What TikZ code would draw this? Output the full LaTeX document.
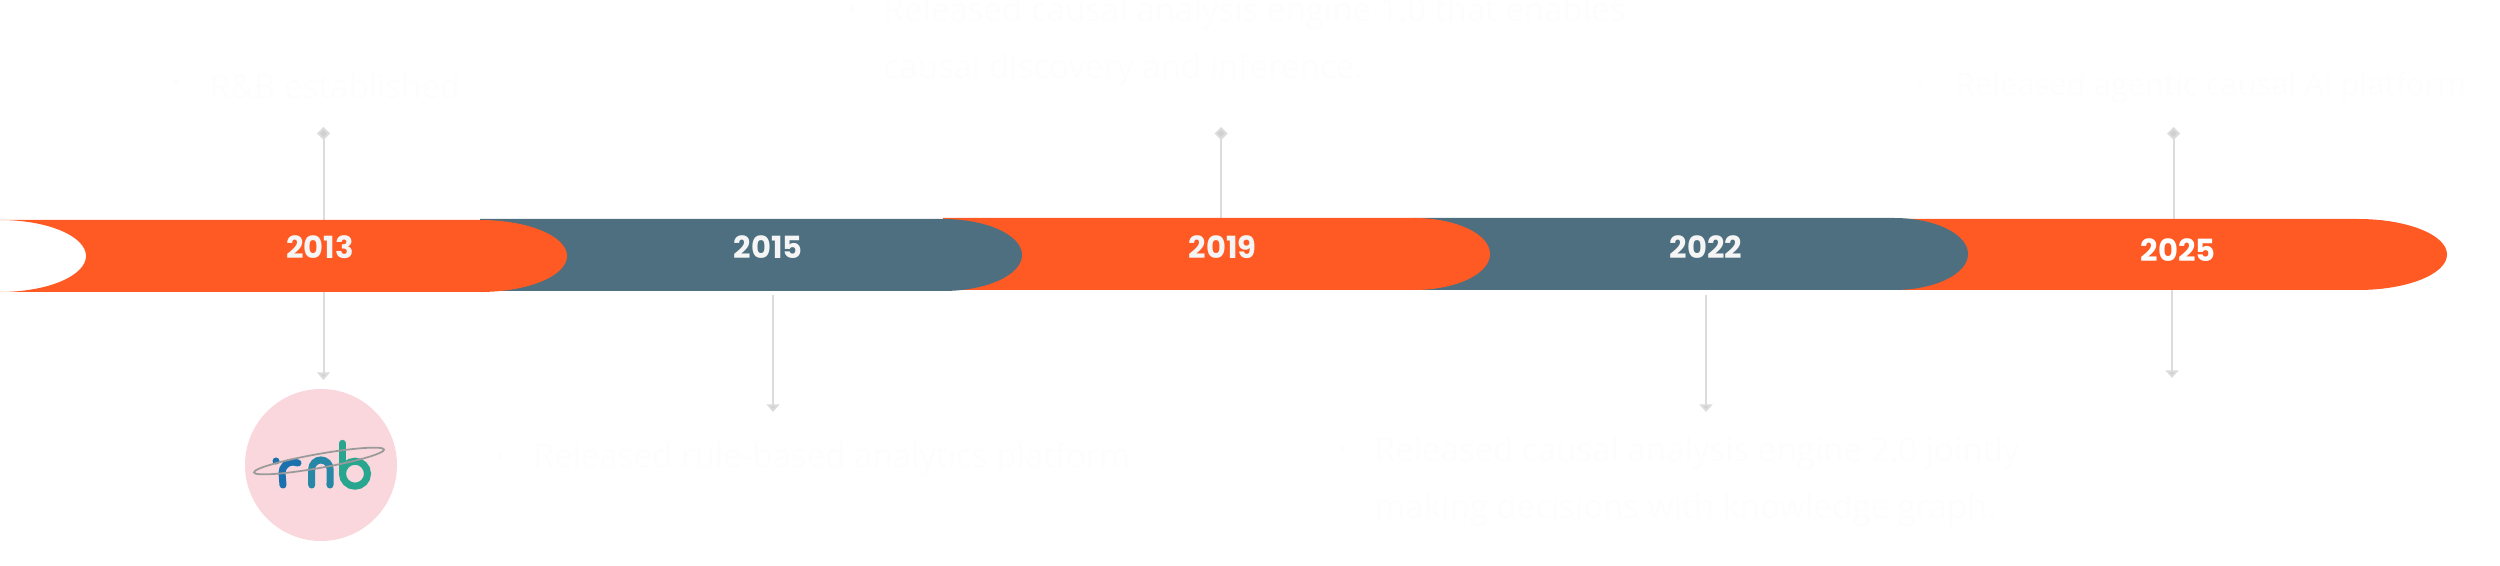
\documentclass[tikz,border=0pt]{standalone}
\usepackage{fontspec}
\setmainfont{Open Sans}
\newfontfamily\yearfont{Poppins}
\usetikzlibrary{arrows.meta}
\definecolor{bandorange}{HTML}{FF5A24}
\definecolor{bandteal}{HTML}{4D6F7F}
\definecolor{stemgray}{HTML}{DCDCDC}
\definecolor{tipgray}{HTML}{D0D0D0}
\definecolor{faintwhite}{HTML}{FDFDFD}
\definecolor{yearwhite}{HTML}{F5F5F5}
\definecolor{logopink}{HTML}{FAD7DC}
\definecolor{logoblue}{HTML}{1B71AE}
\definecolor{logomid}{HTML}{2688A6}
\definecolor{logogreen}{HTML}{28A68F}
\definecolor{logoring}{HTML}{9A9A9A}
\tikzset{
  yearlabel/.style={text=yearwhite,font=\yearfont\bfseries\fontsize{8.7}{10}\selectfont,inner sep=0pt},
  factlabel/.style={text=faintwhite,font=\fontsize{9.4}{10}\selectfont,inner sep=0pt,anchor=west},
  dotlabel/.style={text=faintwhite,font=\fontsize{7}{8}\selectfont,inner sep=0pt},
  stemup/.style={stemgray,line width=0.57pt,-{Diamond[length=3.7pt,width=3.7pt,fill=tipgray]}},
  stemdown/.style={stemgray,line width=0.57pt,-{Triangle[length=2.2pt,width=3.7pt,fill=tipgray]}},
  logostroke/.style={line width=2pt,line cap=round}
}
\begin{document}
\begin{tikzpicture}
  \useasboundingbox (0,0) rectangle (25,5.66);
  % stems behind the band
  \coordinate (up13) at (3.235,4.39);
  \coordinate (up19) at (12.21,4.39);
  \coordinate (up25) at (21.735,4.39);
  \coordinate (base13) at (3.235,3.40);
  \coordinate (base19) at (12.21,3.40);
  \coordinate (base25) at (21.735,3.40);
  \draw[stemup] (base13) -- (up13);
  \draw[stemup] (base19) -- (up19);
  \draw[stemup] (base25) -- (up25);
  \coordinate (low13) at (3.235,1.86);
  \coordinate (low15) at (7.73,1.54);
  \coordinate (low22) at (17.06,1.54);
  \coordinate (low25) at (21.72,1.88);
  \coordinate (foot13) at (3.235,2.80);
  \coordinate (foot15) at (7.73,2.71);
  \coordinate (foot22) at (17.06,2.71);
  \coordinate (foot25) at (21.72,2.80);
  \draw[stemdown] (foot13) -- (low13);
  \draw[stemdown] (foot15) -- (low15);
  \draw[stemdown] (foot22) -- (low22);
  \draw[stemdown] (foot25) -- (low25);
  % band, last piece first
  \fill[bandorange] (18.94,3.47) -- (23.58,3.47) arc[start angle=90,end angle=-90,x radius=.89,y radius=.355] -- (18.94,2.76) -- cycle;
  \fill[bandteal] (14.14,3.48) -- (18.94,3.48) arc[start angle=90,end angle=-90,x radius=.74,y radius=.36] -- (14.14,2.76) -- cycle;
  \fill[bandorange] (9.43,3.48) -- (14.14,3.48) arc[start angle=90,end angle=-90,x radius=.76,y radius=.36] -- (9.43,2.76) -- cycle;
  \fill[bandteal] (4.80,3.47) -- (9.43,3.47) arc[start angle=90,end angle=-90,x radius=.79,y radius=.36] -- (4.80,2.75) -- cycle;
  \fill[bandorange] (0,3.46) -- (4.80,3.46) arc[start angle=90,end angle=-90,x radius=.87,y radius=.36] -- (0,2.74) arc[start angle=-90,end angle=90,x radius=.86,y radius=.36] -- cycle;
  % years
  \node[yearlabel] (y13) at (3.20,3.19) {2013};
  \node[yearlabel] (y15) at (7.68,3.19) {2015};
  \node[yearlabel] (y19) at (12.225,3.19) {2019};
  \node[yearlabel] (y22) at (17.06,3.19) {2022};
  \node[yearlabel,text=white] (y25) at (21.78,3.16) {2025};
  % facts
  \node[dotlabel] (b13) at (1.76,4.80) {•};
  \node[factlabel] (f13) at (2.09,4.80) {R\&B established};
  \node[dotlabel] (b19) at (8.52,5.53) {•};
  \node[factlabel] (f19a) at (8.83,5.53) {Released causal analysis engine 1.0 that enables};
  \node[factlabel] (f19b) at (8.83,4.96) {causal discovery and inference.};
  \node[dotlabel] (b25) at (19.20,4.79) {•};
  \node[factlabel,font=\fontsize{8.8}{10}\selectfont] (f25) at (19.55,4.79) {Released agentic causal AI platform};
  \node[dotlabel] (b15) at (5.00,1.06) {•};
  \node[factlabel] (f15) at (5.33,1.07) {Released rule-based analytics platform};
  \node[dotlabel] (b22) at (13.43,1.13) {•};
  \node[factlabel] (f22a) at (13.74,1.13) {Released causal analysis engine 2.0 jointly};
  \node[factlabel] (f22b) at (13.74,.56) {making decisions with knowledge graph.};
  % logo
  \fill[logopink] (3.21,1.01) circle (.76);
  \fill[logoblue] (2.76,1.05) circle (.035);
  \draw[logoblue,logostroke] (2.83,.81) -- (2.82,.93) arc[start angle=180,end angle=90,radius=.11] -- (2.98,1.03);
  \draw[logomid,logostroke] (3.117,.81) -- (3.117,.968) arc[start angle=180,end angle=0,radius=.092] -- (3.30,.81);
  \draw[logogreen,logostroke] (3.425,1.227) -- (3.425,.923);
  \draw[logogreen,logostroke] (3.55,.923) circle (.125);
  \draw[logoring,line width=.5pt,rotate around={10:(3.19,1.05)}] (3.19,1.05) ellipse (.66 and .07);
\end{tikzpicture}
\end{document}
